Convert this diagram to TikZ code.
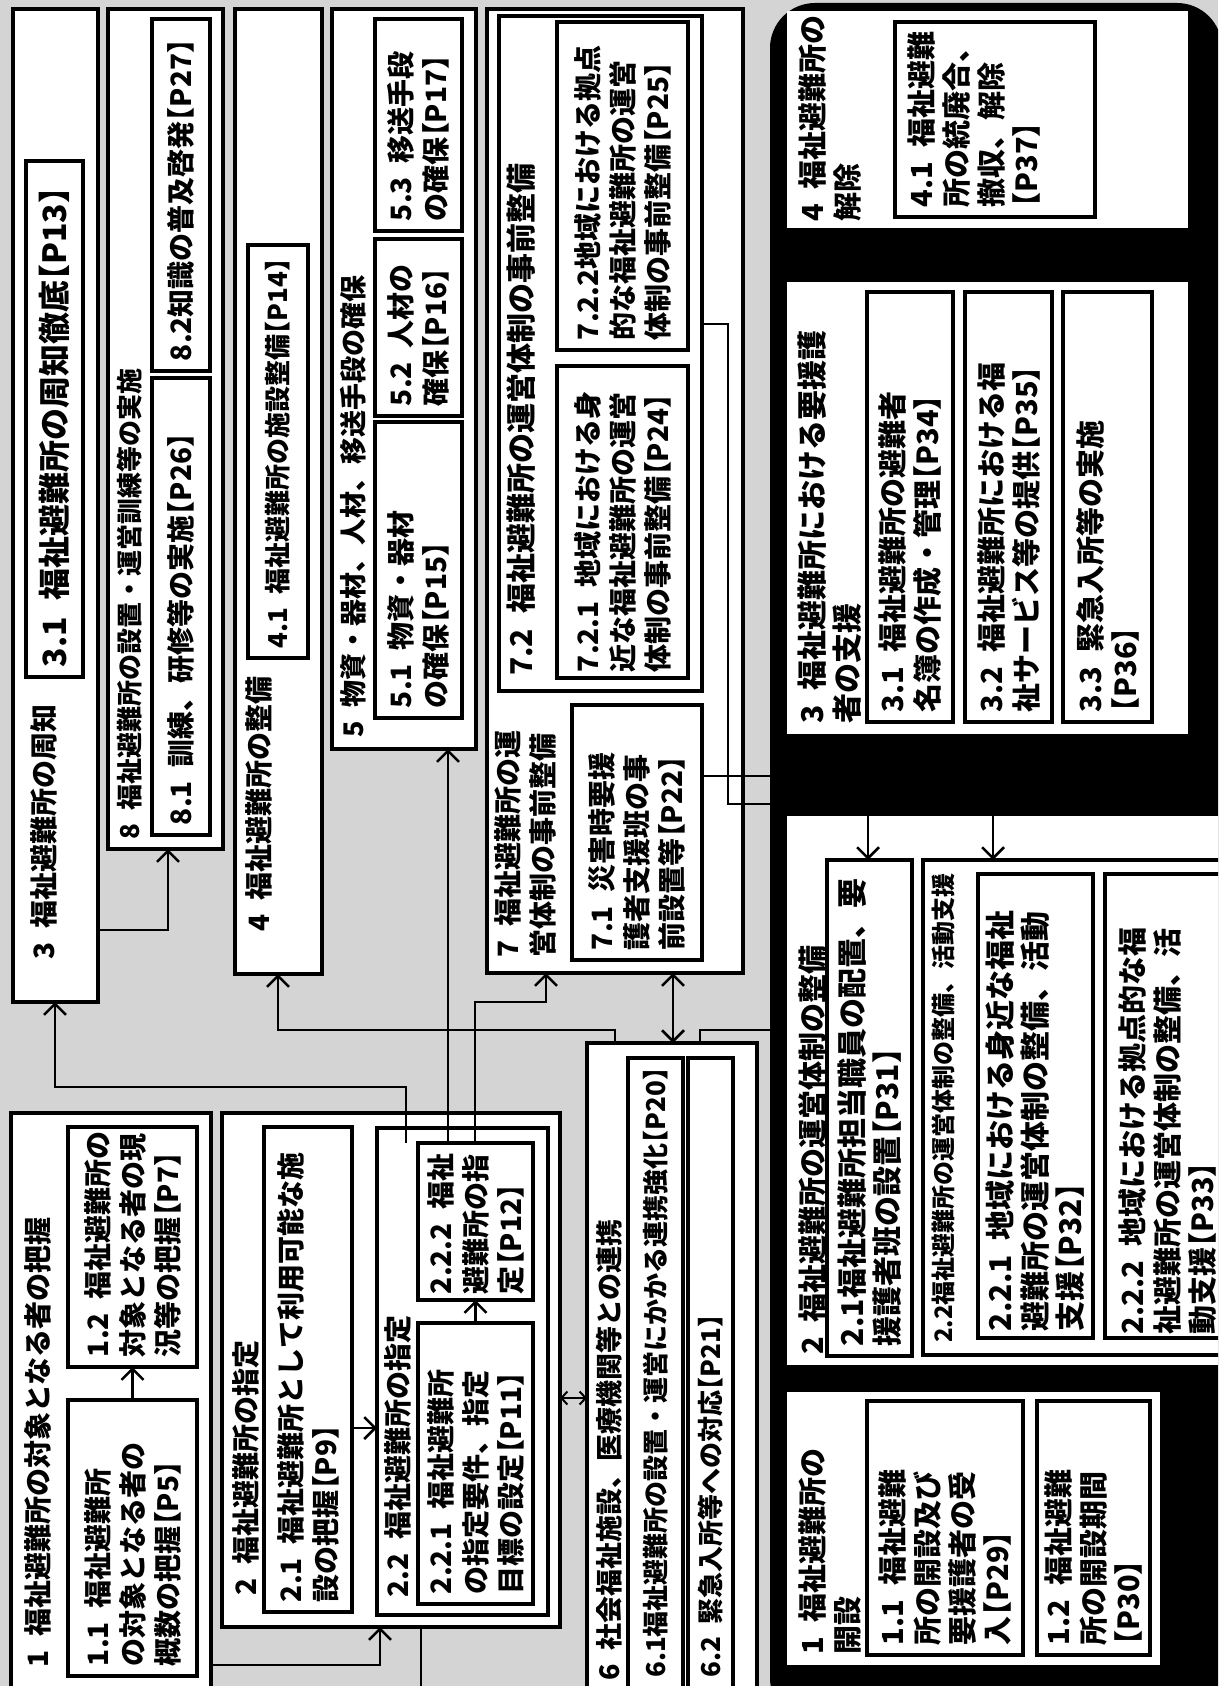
\documentclass[tikz,border=0pt]{standalone}
\usepackage{fontspec}
\newfontfamily\jp{Noto Sans CJK JP}
\newfontfamily\jph{Noto Sans CJK JP}[RawFeature=+halt]
\usetikzlibrary{arrows.meta}
\newcommand{\pref}[1]{{\jph 【}#1{\jph 】}}

\begin{document}
\begin{tikzpicture}[x=1pt, y=-1pt,
    box/.style={draw, line width=4.5pt, fill=white, anchor=north west,
                inner sep=0pt, outer sep=0pt},
    sub/.style={box, line width=4pt},
    pane/.style={box, draw=none},
    fs/.style={font=\jp\bfseries\fontsize{#1}{35}\selectfont},
    lbl/.style={rotate=90, align=left, inner sep=0pt, fs=28},
    rlbl/.style={lbl, fs=29},
    ttl/.style={lbl, anchor=north west},
    rttl/.style={rlbl, anchor=north west},
    wire/.style={line width=2.5pt},
    arr/.style={wire, -{Straight Barb[length=11pt, width=22pt, line width=2.5pt]}},
    dbl/.style={wire, {Straight Barb[length=11pt, width=22pt, line width=2.5pt]}-{Straight Barb[length=11pt, width=22pt, line width=2.5pt]}},
    dbls/.style={wire, {Straight Barb[length=6pt, width=13pt, line width=2pt]}-{Straight Barb[length=6pt, width=13pt, line width=2pt]}}
]
    \useasboundingbox (0,0) rectangle (1218,1686);
    \clip (0,0) rectangle (1218,1686);
    \fill[black!17] (0,0) rectangle (1218,1686);

    % upper row
    \node[box, minimum width=85, minimum height=993] (b3) at (13,9) {};
    \node[sub, minimum width=57, minimum height=516] (b31) at (26,161) {};
    \node[box, minimum width=115, minimum height=840] (b8) at (108,9) {};
    \node[sub, minimum width=58, minimum height=352] (b82) at (152,19) {};
    \node[sub, minimum width=58, minimum height=457] (b81) at (152,378) {};
    \node[box, minimum width=87, minimum height=965] (b4) at (235,9) {};
    \node[sub, minimum width=60, minimum height=413] (b41) at (248,245) {};
    \node[box, minimum width=144, minimum height=740] (b5) at (332,9) {};
    \node[sub, minimum width=87, minimum height=212] (b53) at (375,19) {};
    \node[sub, minimum width=87, minimum height=177] (b52) at (375,239) {};
    \node[sub, minimum width=87, minimum height=296] (b51) at (375,422) {};
    \node[box, minimum width=256, minimum height=964] (b7) at (487,9) {};
    \node[sub, minimum width=203, minimum height=675] (b72) at (499,16) {};
    \node[sub, minimum width=131, minimum height=328] (b722) at (557,22) {};
    \node[sub, minimum width=131, minimum height=312] (b721) at (557,366) {};
    \node[sub, minimum width=130, minimum height=255] (b71) at (572,705) {};

    % lower row
    \node[box, minimum width=200, minimum height=580] (b1) at (11,1113) {};
    \node[sub, minimum width=129, minimum height=240] (b12) at (68,1127) {};
    \node[sub, minimum width=129, minimum height=276] (b11) at (68,1400) {};
    \node[box, minimum width=338, minimum height=514] (b2) at (222,1113) {};
    \node[sub, minimum width=88, minimum height=485] (b21) at (264,1127) {};
    \node[sub, minimum width=171, minimum height=487] (b22) at (377,1128) {};
    \node[sub, minimum width=115, minimum height=157] (b222) at (418,1143) {};
    \node[sub, minimum width=115, minimum height=281] (b221) at (418,1323) {};
    \node[box, minimum width=170, minimum height=660] (b6) at (587,1043) {};
    \node[sub, minimum width=55, minimum height=650] (b61) at (628,1058) {};
    \node[sub, minimum width=45, minimum height=650] (b62) at (688,1058) {};

    % right panel
    \node[box, draw=none, fill=black, rounded corners=45pt,
          minimum width=452, minimum height=1720] (panel) at (770,3) {};
    \node[pane, minimum width=401, minimum height=217] (w4) at (787,11) {};
    \node[sub, minimum width=200, minimum height=195] (r41) at (895,22) {};
    \node[pane, minimum width=401, minimum height=452] (w3) at (787,282) {};
    \node[sub, minimum width=86, minimum height=430] (r31) at (867,292) {};
    \node[sub, minimum width=87, minimum height=430] (r32) at (965,292) {};
    \node[sub, minimum width=89, minimum height=430] (r33) at (1063,292) {};
    \node[pane, minimum width=460, minimum height=549] (w2) at (787,816) {};
    \node[sub, minimum width=85, minimum height=496] (r21) at (827,860) {};
    \node[sub, minimum width=320, minimum height=495] (r22) at (923,860) {};
    \node[sub, minimum width=115, minimum height=464] (r221) at (978,874) {};
    \node[sub, minimum width=125, minimum height=464] (r222) at (1105,874) {};
    \node[pane, minimum width=373, minimum height=273] (w1) at (787,1392) {};
    \node[sub, minimum width=156, minimum height=254] (r11) at (867,1401) {};
    \node[sub, minimum width=113, minimum height=254] (r12) at (1037,1401) {};

    % titles
    \node[ttl] (b3t) at (30,960) {3\enspace 福祉避難所の周知};
    \node[ttl, fs=26] (b8t) at (117,840) {8\enspace 福祉避難所の設置・運営訓練等の実施};
    \node[ttl] (b4t) at (245,932) {4\enspace 福祉避難所の整備};
    \node[ttl, fs=27] (b5t) at (340,738) {5\enspace 物資・器材、人材、移送手段の確保};
    \node[ttl] (b7t) at (494,958) {7\enspace 福祉避難所の運\\営体制の事前整備};
    \node[ttl, fs=30] (b72t) at (506,676) {7.2\enspace 福祉避難所の運営体制の事前整備};
    \node[ttl] (b1t) at (24,1668) {1\enspace 福祉避難所の対象となる者の把握};
    \node[ttl] (b2t) at (232,1596) {2\enspace 福祉避難所の指定};
    \node[ttl] (b22t) at (384,1598) {2.2\enspace 福祉避難所の指定};
    \node[ttl, fs=27] (b6t) at (596,1681) {6\enspace 社会福祉施設、医療機関等との連携};
    \node[rttl] (w4t) at (798,222) {4\enspace 福祉避難所の\\解除};
    \node[rttl, fs=30] (w3t) at (798,724) {3\enspace 福祉避難所における要援護\\者の支援};
    \node[rttl] (w2t) at (798,1355) {2\enspace 福祉避難所の運営体制の整備};
    \node[rttl, fs=24] (r22t) at (932,1343) {2.2福祉避難所の運営体制の整備、活動支援};
    \node[rttl] (w1t) at (798,1655) {1\enspace 福祉避難所の\\開設};

    % box texts
    \node[lbl, fs=32, text width=496] (b31t) at (b31.center) {3.1\enspace 福祉避難所の周知徹底\pref{P13}};
    \node[lbl, text width=332] (b82t) at (b82.center) {8.2知識の普及啓発\pref{P27}};
    \node[lbl, text width=437] (b81t) at (b81.center) {8.1\enspace 訓練、研修等の実施\pref{P26}};
    \node[lbl, fs=26, text width=393] (b41t) at (b41.center) {4.1\enspace 福祉避難所の施設整備\pref{P14}};
    \node[lbl, text width=192] (b53t) at (b53.center) {5.3\enspace 移送手段\\の確保\pref{P17}};
    \node[lbl, text width=157] (b52t) at (b52.center) {5.2\enspace 人材の\\確保\pref{P16}};
    \node[lbl, text width=276] (b51t) at (b51.center) {5.1\enspace 物資・器材\\の確保\pref{P15}};
    \node[lbl, text width=308] (b722t) at (b722.center) {7.2.2地域における拠点\\的な福祉避難所の運営\\体制の事前整備\pref{P25}};
    \node[lbl, text width=300] (b721t) at (b721.center) {7.2.1\enspace 地域における身\\近な福祉避難所の運営\\体制の事前整備\pref{P24}};
    \node[lbl, text width=235] (b71t) at (b71.center) {7.1\enspace 災害時要援\\護者支援班の事\\前設置等\pref{P22}};
    \node[lbl, text width=220] (b12t) at (b12.center) {1.2\enspace 福祉避難所の\\対象となる者の現\\況等の把握\pref{P7}};
    \node[lbl, text width=256] (b11t) at (b11.center) {1.1\enspace 福祉避難所\\の対象となる者の\\概数の把握\pref{P5}};
    \node[lbl, text width=465] (b21t) at (b21.center) {2.1\enspace 福祉避難所として利用可能な施\\設の把握\pref{P9}};
    \node[lbl, text width=145] (b222t) at (b222.center) {2.2.2\enspace 福祉\\避難所の指\\定\pref{P12}};
    \node[lbl, text width=261] (b221t) at (b221.center) {2.2.1\enspace 福祉避難所\\の指定要件、指定\\目標の設定\pref{P11}};
    \coordinate (k61) at (0,1678);
    \node[lbl, fs=26, anchor=west] (b61t) at (b61.center |- k61) {6.1福祉避難所の設置・運営にかかる連携強化\pref{P20}};
    \node[lbl, fs=26, anchor=west] (b62t) at (b62.center |- k61) {6.2\enspace 緊急入所等への対応\pref{P21}};
    \node[rlbl, text width=175, anchor=north] (r41t) at ([xshift=12pt]r41.west)
        {4.1\enspace 福祉避難\\所の統廃合、\\撤収、解除\\\pref{P37}};
    \node[rlbl, text width=410] (r31t) at (r31.center) {3.1\enspace 福祉避難所の避難者\\名簿の作成・管理\pref{P34}};
    \node[rlbl, text width=410] (r32t) at (r32.center) {3.2\enspace 福祉避難所における福\\祉サービス等の提供\pref{P35}};
    \node[rlbl, text width=410] (r33t) at (r33.center) {3.3\enspace 緊急入所等の実施\\\pref{P36}};
    \node[rlbl, fs=30, text width=476] (r21t) at (r21.center) {2.1福祉避難所担当職員の配置、要\\援護者班の設置\pref{P31}};
    \node[rlbl, fs=30, text width=450] (r221t) at (r221.center) {2.2.1\enspace 地域における身近な福祉\\避難所の運営体制の整備、活動\\支援\pref{P32}};
    \node[rlbl, text width=456] (r222t) at (r222.center) {2.2.2\enspace 地域における拠点的な福\\祉避難所の運営体制の整備、活\\動支援\pref{P33}};
    \node[rlbl, text width=234] (r11t) at (r11.center) {1.1\enspace 福祉避難\\所の開設及び\\要援護者の受\\入\pref{P29}};
    \node[rlbl, text width=234] (r12t) at (r12.center) {1.2\enspace 福祉避難\\所の開設期間\\\pref{P30}};

    % connectors
    \coordinate (k2) at (0,1428);
    \coordinate (k4) at (380,1665);
    \coordinate (k5) at (421,1700);
    \coordinate (k6) at (0,1398);
    \coordinate (k7) at (406,0);
    \coordinate (k7b) at (55,1087);
    \coordinate (k8) at (448,0);
    \coordinate (k9) at (475,1002);
    \coordinate (k9b) at (546,0);
    \coordinate (k10) at (615,1030);
    \coordinate (k10b) at (278,0);
    \coordinate (k11) at (673,0);
    \coordinate (k12) at (700,1030);
    \coordinate (k13) at (168,930);
    \coordinate (k14) at (868,776);
    \coordinate (k15) at (728,324);
    \coordinate (k15b) at (993,804);

    \draw[arr] (b11.north) -- (b12.south);
    \draw[arr] (b21.east |- k2) -- (b22.west |- k2);
    \draw[arr] (b221.north) -- (b222.south);
    \draw[arr] (b1.east |- k4) -| (b2.south -| k4);
    \draw[wire] (b2.south -| k5) -- (k5);
    \draw[dbls] (b2.east |- k6) -- (b6.west |- k6);
    \draw[arr] (b222.north -| k7) |- (k7b) -- (b3.south -| k7b);
    \draw[arr] (b222.north -| k8) -- (b5.south -| k8);
    \draw[arr] (b222.north -| k9) |- (k9b |- k9) -- (b7.south -| k9b);
    \draw[arr] (b6.north -| k10) |- (k10b |- k10) -- (b4.south -| k10b);
    \draw[dbl] (b7.south -| k11) -- (b6.north -| k11);
    \draw[wire] (b6.north -| k12) |- (panel.west |- k12);
    \draw[arr] (b3.east |- k13) -| (b8.south -| k13);
    \draw[arr] (b71.east |- k14) -| (r21.north -| k14);
    \draw[arr] (b72.east |- k15) -| (k15b -| k15) -| (r22.north -| k15b);
\end{tikzpicture}
\end{document}
